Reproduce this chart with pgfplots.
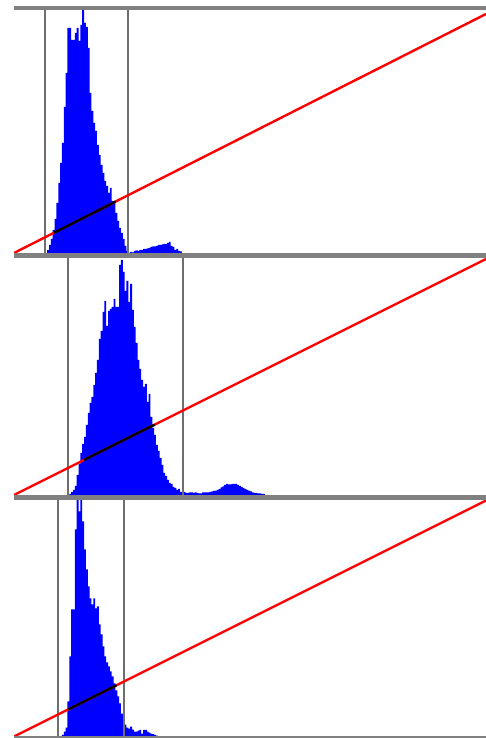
\documentclass[border=0pt]{standalone}
\usepackage{pgfplots}
\pgfplotsset{compat=1.18}
\definecolor{sepgray}{RGB}{128,128,128}
\definecolor{vgray}{RGB}{110,110,110}
\begin{document}
\begin{tikzpicture}[x=1pt,y=1pt]
\useasboundingbox (0,0) rectangle (486,738);
\pgfplotsset{panel/.style={hide axis, scale only axis, width=472pt, xmin=0, xmax=256, ymin=0, anchor=south west, clip=true}}
% ---------- top panel ----------
\begin{axis}[panel, at={(14pt,485pt)}, height=243pt, ymax=243]
\addplot[const plot, fill=blue, draw=none] coordinates {
(18,3) (19,8) (20,14) (21,23) (22,34) (23,50) (24,70) (25,90) (26,110) (27,146)
(28,180) (29,225) (30,225) (31,213) (32,213) (33,220) (34,225) (35,212) (36,228) (37,243)
(38,230) (39,226) (40,205) (41,160) (42,142) (43,130) (44,122) (45,108) (46,98) (47,88)
(48,80) (49,72) (50,67) (51,60) (52,65) (53,52) (54,50) (55,40) (56,32) (57,25)
(58,20) (59,14) (60,7) (61,2) (62,0) (63,1) (64,0.5) (65,2) (66,2.5) (67,2)
(68,3) (69,3) (70,4) (71,4) (72,4.5) (73,5) (74,6) (75,6.5) (76,6.5) (77,7)
(78,8) (79,8) (80,8.5) (81,9) (82,9) (83,10) (84,11) (85,7) (86,6) (87,3)
(88,4) (89,2) (90,1.5) (91,0)} \closedcycle;
\addplot[vgray, line width=1.8pt] coordinates {(16.8,0) (16.8,243)};
\addplot[vgray, line width=1.8pt] coordinates {(61.8,0) (61.8,243)};
\addplot[red, line width=2.4pt] coordinates {(0,0) (256,239)};
\addplot[black, line width=2.4pt] coordinates {(21.7,20.26) (55.1,51.44)};
\end{axis}
% ---------- middle panel ----------
\begin{axis}[panel, at={(14pt,243pt)}, height=237pt, ymax=237]
\addplot[const plot, fill=blue, draw=none] coordinates {
(30,1) (31,3) (32,5) (33,9) (34,20) (35,31) (36,42) (37,51) (38,58) (39,70)
(40,82) (41,92) (42,98) (43,110) (44,122) (45,135) (46,156) (47,164) (48,183) (49,194)
(50,169) (51,184) (52,186) (53,188) (54,196) (55,188) (56,188) (57,230) (58,235) (59,223)
(60,204) (61,214) (62,193) (63,211) (64,185) (65,168) (66,152) (67,135) (68,126) (69,115)
(70,108) (71,111) (72,93) (73,101) (74,78) (75,67) (76,60) (77,50) (78,44) (79,37)
(80,30) (81,22) (82,19) (83,15) (84,12) (85,11) (86,8) (87,7) (88,5) (89,6)
(90,3) (91,3) (92,3) (93,2) (94,2) (95,2.5) (96,2.7) (97,2) (98,2.7) (99,2)
(100,1.5) (101,1.7) (102,2.5) (103,2.7) (104,2.5) (105,2.7) (106,3) (107,3.5) (108,4) (109,4.3)
(110,5) (111,6) (112,7.5) (113,8.5) (114,10) (115,11) (116,10.5) (117,10.5) (118,11) (119,11)
(120,11) (121,10) (122,9) (123,8) (124,7) (125,6) (126,5) (127,4.3) (128,3.5) (129,2.7)
(130,2.2) (131,2) (132,1.7) (133,1.5) (134,1.2) (135,1) (136,0)} \closedcycle;
\addplot[vgray, line width=1.8pt] coordinates {(29.3,0) (29.3,237)};
\addplot[vgray, line width=1.8pt] coordinates {(91.6,0) (91.6,237)};
\addplot[red, line width=2.4pt] coordinates {(0,0) (256,236)};
\addplot[black, line width=2.4pt] coordinates {(38.0,35.03) (76.3,70.34)};
\end{axis}
% ---------- bottom panel ----------
\begin{axis}[panel, at={(14pt,1.5pt)}, height=236.5pt, ymax=236.5]
\addplot[const plot, fill=blue, draw=none] coordinates {
(26,1.7) (27,5) (28,9) (29,35) (30,80) (31,127) (32,127) (33,207) (34,240) (35,225)
(36,240) (37,215) (38,187) (39,167) (40,150) (41,138) (42,132) (43,138) (44,128) (45,130)
(46,112) (47,102) (48,90) (49,80) (50,74) (51,70) (52,65) (53,60) (54,53) (55,46)
(56,40) (57,33) (58,23) (59,16) (60,12) (61,9) (62,8) (63,10) (64,7) (65,5)
(66,5) (67,6) (68,6.7) (69,3) (70,6.7) (71,6.7) (72,5) (73,4) (74,3) (75,2.5)
(76,1.7) (77,1) (78,0)} \closedcycle;
\addplot[vgray, line width=1.8pt] coordinates {(23.9,0) (23.9,236.5)};
\addplot[vgray, line width=1.8pt] coordinates {(59.7,0) (59.7,236.5)};
\addplot[red, line width=2.4pt] coordinates {(0,0) (256,236)};
\addplot[black, line width=2.4pt] coordinates {(29.5,27.2) (55.7,51.35)};
\end{axis}
% ---------- separator bars ----------
\fill[sepgray] (14,728) rectangle (486,731.5);
\fill[sepgray] (14,480) rectangle (486,485);
\fill[sepgray] (14,238) rectangle (486,243);
\fill[sepgray] (14,0) rectangle (486,1.5);
\end{tikzpicture}
\end{document}
